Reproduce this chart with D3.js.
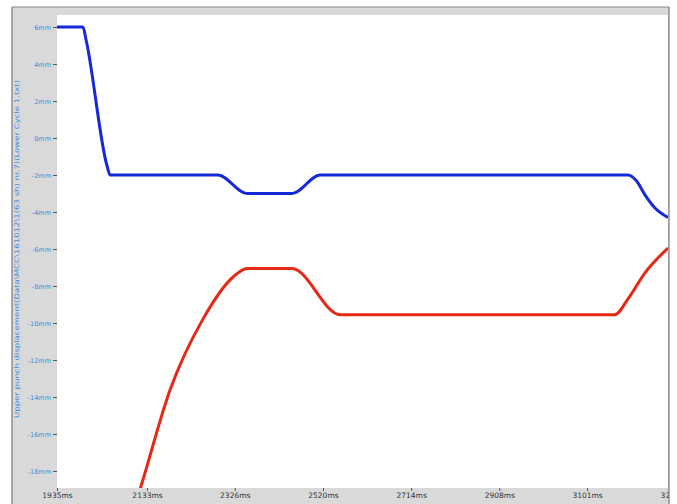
<!DOCTYPE html>
<html>
<head>
<meta charset="utf-8">
<script src="https://cdn.jsdelivr.net/npm/d3@7/dist/d3.min.js"></script>
<style>
html,body{margin:0;padding:0;background:#fff;}
svg{display:block;}
</style>
</head>
<body>
<svg id="chart" width="677" height="504"></svg>
<script>
// ---- data ----
const xTicks = [1935, 2133, 2326, 2520, 2714, 2908, 3101, 3295];
const yTicks = [6, 4, 2, 0, -2, -4, -6, -8, -10, -12, -14, -16, -18];
const yTitle = "Upper punch displacement(Data\\MCC\\161012\\1(63 sh) nr.7)(Lower Cycle 1.txt)";

// upper punch (blue): time ms, displacement mm
const blueT = [1935, 1992, 1999, 2045, 2052, 2289, 2353, 2452, 2514, 3191, 3209, 3229, 3251, 3279];
const blueV = [6, 6, 5.3, -1.5, -2, -2, -3, -3, -2, -2, -2.3, -3.1, -3.8, -4.3];

// lower punch (red)
const redT = [2114, 2122, 2184, 2257, 2323, 2353, 2452, 2558, 3162, 3191, 3228, 3279];
const redV = [-19.3, -18.65, -13.6, -9.75, -7.5, -7.05, -7.05, -9.55, -9.55, -8.7, -7.3, -5.95];

// ---- layout ----
const svg = d3.select("#chart");
const frame = {l: 12, t: 7, r: 669, b: 504};
const plot = {l: 57, t: 15, r: 668, b: 488};

const x = d3.scaleLinear().domain([1935, 3279]).range([plot.l, plot.r]);
const y = d3.scaleLinear().domain([6.65, -18.92]).range([plot.t, plot.b]);

const defs = svg.append("defs");
defs.append("clipPath").attr("id", "frameClip").append("rect")
  .attr("x", frame.l).attr("y", frame.t).attr("width", frame.r - frame.l).attr("height", frame.b - frame.t);
defs.append("clipPath").attr("id", "plotClip").append("rect")
  .attr("x", plot.l).attr("y", plot.t).attr("width", plot.r - plot.l).attr("height", plot.b - plot.t);

const g = svg.append("g").attr("clip-path", "url(#frameClip)");

// gray panel
g.append("rect").attr("x", frame.l).attr("y", frame.t)
  .attr("width", frame.r - frame.l).attr("height", frame.b - frame.t)
  .attr("fill", "#d9d9d9");
// plot area
g.append("rect").attr("x", plot.l).attr("y", plot.t)
  .attr("width", plot.r - plot.l).attr("height", plot.b - plot.t)
  .attr("fill", "#ffffff");

// y axis
const yAxis = d3.axisLeft(y).tickValues(yTicks).tickSize(4).tickPadding(2)
  .tickFormat(d => d + "mm");
const ya = g.append("g").attr("transform", `translate(${plot.l},0)`).call(yAxis);
ya.select(".domain").remove();
ya.selectAll(".tick line").attr("stroke", "#555");
ya.selectAll(".tick text").attr("fill", "#3a8ee0")
  .attr("font-family", "DejaVu Sans, sans-serif").attr("font-size", 6.5);

// x axis
const xAxis = d3.axisBottom(x).tickValues(xTicks).tickSize(3).tickPadding(2)
  .tickFormat(d => d + "ms");
const xa = g.append("g").attr("transform", `translate(0,${plot.b})`).call(xAxis);
xa.select(".domain").remove();
xa.selectAll(".tick line").attr("stroke", "#555");
xa.selectAll(".tick text").attr("fill", "#333")
  .attr("font-family", "DejaVu Sans, sans-serif").attr("font-size", 7.5);

// y title
g.append("text")
  .attr("transform", `translate(19,249) rotate(-90)`)
  .attr("text-anchor", "middle")
  .attr("font-family", "DejaVu Sans, sans-serif")
  .attr("font-size", 6.5)
  .attr("fill", "#3a8ee0")
  .attr("textLength", 338)
  .attr("lengthAdjust", "spacingAndGlyphs")
  .text(yTitle);

// lines
const line = d3.line().x(d => x(d[0])).y(d => y(d[1])).curve(d3.curveMonotoneX);
const pg = g.append("g").attr("clip-path", "url(#plotClip)");
pg.append("path").datum(d3.zip(blueT, blueV)).attr("d", line)
  .attr("fill", "none").attr("stroke", "#1428dc").attr("stroke-width", 3)
  .attr("stroke-linejoin", "round");
pg.append("path").datum(d3.zip(redT, redV)).attr("d", line)
  .attr("fill", "none").attr("stroke", "#e62814").attr("stroke-width", 3)
  .attr("stroke-linejoin", "round");

// frame borders
svg.append("line").attr("x1", frame.l).attr("x2", frame.r).attr("y1", frame.t).attr("y2", frame.t)
  .attr("stroke", "#888").attr("stroke-width", 1.2);
svg.append("line").attr("x1", frame.l).attr("x2", frame.l).attr("y1", frame.t).attr("y2", frame.b)
  .attr("stroke", "#777").attr("stroke-width", 1.2);
svg.append("line").attr("x1", frame.r).attr("x2", frame.r).attr("y1", frame.t).attr("y2", frame.b)
  .attr("stroke", "#777").attr("stroke-width", 1.2);
</script>
</body>
</html>
